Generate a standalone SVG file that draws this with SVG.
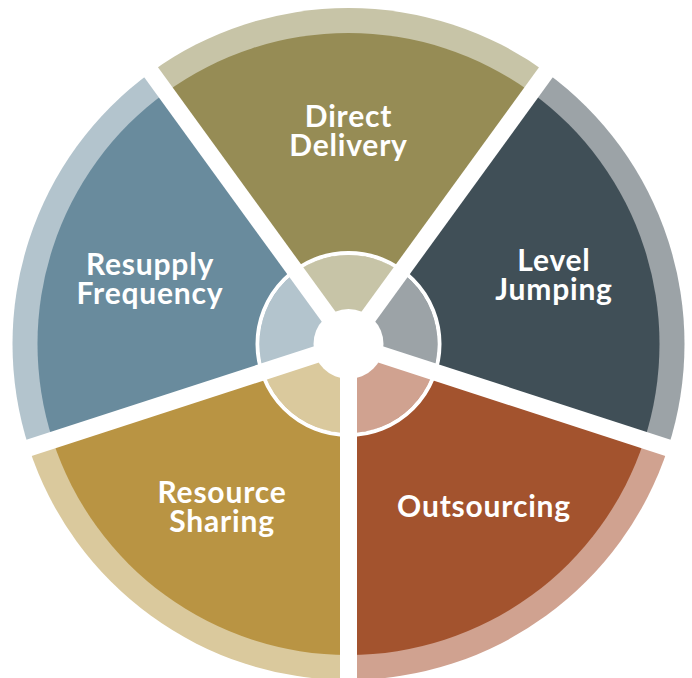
<svg xmlns="http://www.w3.org/2000/svg" width="692" height="678" viewBox="0 0 692 678">
  <style>
    .lbl { font-family: Lato, "Open Sans", "Liberation Sans", sans-serif; font-weight: 700; font-size: 30px; letter-spacing: 0.8px; fill: #ffffff; text-anchor: middle; }
    .gap { stroke: #ffffff; stroke-width: 17; stroke-linecap: butt; }
  </style>
  <rect width="692" height="678" fill="#ffffff"/>

  <g id="direct-delivery">
    <path d="M348.5 344 L151.004 72.17 A336 336 0 0 1 545.996 72.17 Z" fill="#C7C4A7"/>
    <path d="M348.5 344 L165.699 92.396 A311 311 0 0 1 531.301 92.396 Z" fill="#968C55"/>
    <path d="M348.5 344 L296.187 271.997 A89 89 0 0 1 400.813 271.997 Z" fill="#C7C4A7"/>
    <text class="lbl" x="348.5" y="127">Direct</text>
    <text class="lbl" x="348.5" y="156">Delivery</text>
  </g>

  <g id="level-jumping">
    <path d="M348.5 344 L545.996 72.17 A336 336 0 0 1 668.055 447.83 Z" fill="#9CA3A7"/>
    <path d="M348.5 344 L531.301 92.396 A311 311 0 0 1 644.279 440.104 Z" fill="#404F57"/>
    <path d="M348.5 344 L400.813 271.997 A89 89 0 0 1 433.144 371.503 Z" fill="#9CA3A7"/>
    <text class="lbl" x="554" y="271">Level</text>
    <text class="lbl" x="554" y="300">Jumping</text>
  </g>

  <g id="outsourcing">
    <path d="M348.5 344 L668.055 447.83 A336 336 0 0 1 348.5 680 Z" fill="#D0A290"/>
    <path d="M348.5 344 L644.279 440.104 A311 311 0 0 1 348.5 655 Z" fill="#A3532E"/>
    <path d="M348.5 344 L433.144 371.503 A89 89 0 0 1 348.5 433 Z" fill="#D0A290"/>
    <text class="lbl" x="484" y="517">Outsourcing</text>
  </g>

  <g id="resource-sharing">
    <path d="M348.5 344 L348.5 680 A336 336 0 0 1 28.945 447.83 Z" fill="#DAC99D"/>
    <path d="M348.5 344 L348.5 655 A311 311 0 0 1 52.721 440.104 Z" fill="#B99443"/>
    <path d="M348.5 344 L348.5 433 A89 89 0 0 1 263.856 371.503 Z" fill="#DAC99D"/>
    <text class="lbl" x="222" y="503">Resource</text>
    <text class="lbl" x="222" y="532">Sharing</text>
  </g>

  <g id="resupply-frequency">
    <path d="M348.5 344 L28.945 447.83 A336 336 0 0 1 151.004 72.17 Z" fill="#B3C4CD"/>
    <path d="M348.5 344 L52.721 440.104 A311 311 0 0 1 165.699 92.396 Z" fill="#698B9D"/>
    <path d="M348.5 344 L263.856 371.503 A89 89 0 0 1 296.187 271.997 Z" fill="#B3C4CD"/>
    <text class="lbl" x="150" y="275">Resupply</text>
    <text class="lbl" x="150" y="304">Frequency</text>
  </g>

  <g id="separators">
    <circle cx="348.5" cy="344" r="91" fill="none" stroke="#ffffff" stroke-width="4"/>
    <line class="gap" x1="348.5" y1="344" x2="348.5" y2="690"/>
    <line class="gap" x1="348.5" y1="344" x2="19.0" y2="451.1"/>
    <line class="gap" x1="348.5" y1="344" x2="145.1" y2="64.1"/>
    <line class="gap" x1="348.5" y1="344" x2="551.9" y2="64.1"/>
    <line class="gap" x1="348.5" y1="344" x2="678.0" y2="451.1"/>
    <circle cx="348.5" cy="344" r="35" fill="#ffffff"/>
  </g>
</svg>
